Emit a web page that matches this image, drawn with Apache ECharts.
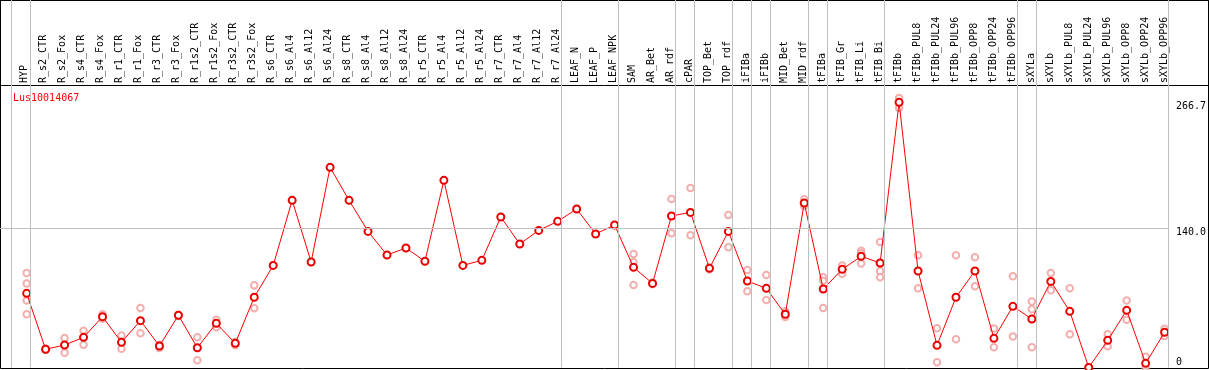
<!DOCTYPE html>
<html><head><meta charset="utf-8">
<script src="https://cdn.jsdelivr.net/npm/echarts@6/dist/echarts.min.js"></script>
<style>html,body{margin:0;padding:0;background:#fff}#c{width:1209px;height:370px}</style>
</head><body><div id="c"></div>
<script>
const chartTitle = 'Lus10014067';
const categories = ['HYP','R_s2_CTR','R_s2_Fox','R_s4_CTR','R_s4_Fox','R_r1_CTR','R_r1_Fox','R_r3_CTR','R_r3_Fox','R_r1s2_CTR','R_r1s2_Fox','R_r3s2_CTR','R_r3s2_Fox','R_s6_CTR','R_s6_Al4','R_s6_Al12','R_s6_Al24','R_s8_CTR','R_s8_Al4','R_s8_Al12','R_s8_Al24','R_r5_CTR','R_r5_Al4','R_r5_Al12','R_r5_Al24','R_r7_CTR','R_r7_Al4','R_r7_Al12','R_r7_Al24','LEAF_N','LEAF_P','LEAF_NPK','SAM','AR_Bet','AR_rdf','cPAR','TOP_Bet','TOP_rdf','iFIBa','iFIBb','MID_Bet','MID_rdf','tFIBa','tFIB_Gr','tFIB_Li','tFIB_Bi','tFIBb','tFIBb_PUL8','tFIBb_PUL24','tFIBb_PUL96','tFIBb_OPP8','tFIBb_OPP24','tFIBb_OPP96','sXYLa','sXYLb','sXYLb_PUL8','sXYLb_PUL24','sXYLb_PUL96','sXYLb_OPP8','sXYLb_OPP24','sXYLb_OPP96'];
const means = [74.6,18.3,22.6,30.3,51.1,25.3,47.1,21.6,52.5,19.9,44.4,24.3,70.6,102.7,168.1,106.1,201.3,168.1,136.9,113.1,120.2,106.8,188.2,102.7,107.8,151.4,124.2,137.9,147.0,159.4,134.3,143.3,100.7,84.6,152.4,156.0,99.7,136.9,87.0,79.6,53.5,165.4,79.0,98.7,111.8,105.1,266.7,97.1,22.3,70.6,97.1,29.3,61.5,48.8,86.6,56.5,0,27.3,57.5,4.2,35.4];
const replicates = [
  [95.0,84.6,67.5,53.5],[17.5,19.2],[29.7,14.9],[37.0,23.0],[53.5,49.0],[32.3,18.9],[59.8,34.4],[23.0,19.5],[53.0,51.8],[30.4,7.2],
  [47.9,40.4],[26.0,22.5],[82.6,59.5],[],[],[],[],[],[],[],
  [],[],[],[],[],[],[],[],[],[],
  [],[],[114.2,106.1,83.0],[85.5,83.8],[169.5,134.9],[180.5,132.9],[100.5,98.9],[153.4,120.9],[98.1,76.6],[93.0,67.9],
  [56.5,50.8],[169.1,162.5],[90.7,87.3,59.8],[102.7,94.4],[117.5,114.8,104.7],[126.2,97.1,90.7],[271.0,261.0],[112.8,79.6],[39.4,5.2],[112.8,28.3],
  [110.8,81.6],[39.1,20.3],[91.7,31.3],[66.5,58.5,20.3],[95.0,77.6],[79.6,33.4],[0,0],[33.4,21.3],[67.5,48.1],[10.9,0],
  [39.0,31.7]
];
// separators are drawn after these category numbers (0 = before the first)
const groupEnds = [0,1,29,32,35,36,38,39,40,42,43,46,53,54,61];
const yTickValues = [0,140,266.7];
const yTickLabels = ['0','140.0','266.7'];

const FONT = 'DejaVu Sans Mono';
const SEP_OFFSET = 4/19;
const chart = echarts.init(document.getElementById('c'), null, {renderer:'canvas'});

const meanData = means.map((v,i)=>[i+1, v]);
const repData = [];
replicates.forEach((arr,i)=>arr.forEach(v=>repData.push([i+1, v])));

const option = {
  animation:false,
  backgroundColor:'#fff',
  title:{text:chartTitle, left:8, top:88, textStyle:{color:'#ff0000', fontFamily:FONT, fontSize:10, fontWeight:'normal'}},
  grid:[
    {left:0.5, top:0.5, right:0.5, bottom:1.5, show:true, borderColor:'#000', borderWidth:1},
    {left:0.5, top:0.5, right:0.5, height:85, show:true, borderColor:'#000', borderWidth:1},
    {left:0, top:0, width:1171, height:367.5},
    {left:14.5, top:85, width:1159, height:1}
  ],
  xAxis:[
    {gridIndex:0, type:'value', show:false},
    {gridIndex:1, type:'value', show:false},
    {gridIndex:2, type:'value', min:-7.7/19, max:(1171-7.7)/19, show:false},
    {gridIndex:3, type:'category', data:categories, position:'top', boundaryGap:true,
     axisLine:{show:false}, axisTick:{show:false},
     axisLabel:{rotate:90, margin:2, interval:0, fontFamily:FONT, fontSize:10, color:'#000'}}
  ],
  yAxis:[
    {gridIndex:0, type:'value', show:false},
    {gridIndex:1, type:'value', show:false},
    {gridIndex:2, type:'value', min:0, max:367.5/0.9943, position:'right',
     axisLine:{show:false}, axisTick:{show:false}, splitLine:{show:false},
     axisLabel:{customValues:yTickValues, margin:7, fontFamily:FONT, fontSize:10, color:'#000',
       formatter:function(val){
         let idx = yTickValues.findIndex(t=>Math.abs(t-val)<0.01);
         let s = idx>=0 ? yTickLabels[idx] : '';
         return val===0 ? '{b|'+s+'}' : '{t|'+s+'}';
       },
       rich:{t:{fontFamily:FONT, fontSize:10, color:'#000', padding:[9,0,0,0]},
             b:{fontFamily:FONT, fontSize:10, color:'#000', padding:[0,0,11,0]}}}},
    {gridIndex:3, type:'value', show:false}
  ],
  series:[
    {type:'scatter', xAxisIndex:2, yAxisIndex:2, data:repData, symbol:'emptyCircle', symbolSize:6.5,
     itemStyle:{color:'#f09a9a', borderWidth:1.2}, silent:true, z:2},
    {type:'line', xAxisIndex:2, yAxisIndex:2, data:meanData, symbol:'emptyCircle', symbolSize:7,
     lineStyle:{color:'#ff0000', width:1}, itemStyle:{color:'#e80000', borderWidth:1.6}, z:4,
     markLine:{silent:true, symbol:'none', animation:false, label:{show:false},
       lineStyle:{color:'#c0c0c0', width:1, type:'solid'},
       data: groupEnds.map(k=>({xAxis:k+SEP_OFFSET})).concat([{yAxis:140}])}}
  ]
};
chart.setOption(option);
</script>
</body></html>
